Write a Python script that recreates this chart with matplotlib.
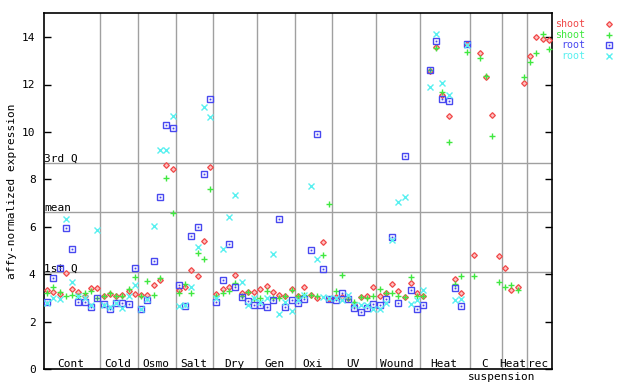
import numpy as np
import matplotlib
matplotlib.use("Agg")
import matplotlib.pyplot as plt
from matplotlib.lines import Line2D

nan = np.nan
groups = ['Cont', 'Cold', 'Osmo', 'Salt', 'Dry', 'Gen', 'Oxi', 'UV', 'Wound', 'Heat', 'C', 'Heat', 'rec']
group_sizes = [9, 6, 6, 6, 7, 6, 6, 7, 7, 8, 5, 4, 4]

shoot_a = [3.33, 3.25, 3.18, 4.05, 3.39, 3.25, 3.10, 3.42, 3.42,
           3.09, 3.17, 3.10, 3.13, 3.32, 3.16,
           3.13, 3.13, 3.56, 3.77, 8.60, 8.44,
           3.35, 3.46, 4.17, 3.92, 5.40, 8.54,
           3.16, 3.39, 3.46, 3.98, 3.20, 3.25, 3.25,
           3.39, 3.51, 3.25, 3.14, 3.07, 3.39,
           3.09, 3.48, 3.13, 3.00, 5.36, 2.97,
           3.06, 3.05, 3.00, 2.75, 3.06, 3.10, 3.48,
           3.10, 3.20, 3.58, 3.30, 3.06, 3.63, 3.20,
           3.09, 12.55, 13.60, 11.54, 10.67, 3.81, 3.20, 13.70,
           4.81, 13.33, 12.30, 10.73, 4.77,
           4.26, 3.33, 3.47, 12.06,
           13.20, 14.00, 13.90, 13.86]
shoot_b = [3.20, 3.47, 3.26, 3.09, 3.13, 3.10, 3.23, 3.29, 3.02,
           3.10, 3.20, 3.10, 3.09, 3.39, 3.88,
           3.09, 3.70, 3.13, 3.84, 8.06, 6.58,
           3.20, 3.58, 3.20, 4.89, 4.64, 7.59,
           3.10, 3.20, 3.30, 3.63, 3.10, 3.25, 2.95,
           3.00, 3.28, 2.99, 3.00, 3.10, 3.33,
           3.10, 3.14, 3.14, 3.10, 4.81, 6.96,
           3.30, 3.98, 2.95, 2.85, 3.06, 3.00, 3.09,
           3.39, 3.20, 3.23, 3.09, 3.06, 3.88, 3.10,
           3.09, 12.60, 13.54, 11.68, 9.57, 3.58, 3.92, 13.37,
           3.92, 13.12, 12.36, 9.83, 3.67,
           3.46, 3.56, 3.33, 12.32,
           12.95, 13.33, 14.11, 13.51]
root_a = [2.85, 3.84, 4.26, 5.95, 5.06, 2.85, 2.85, 2.61, 2.99,
          2.74, 2.54, 2.78, 2.78, 2.74, 4.26,
          2.52, 2.92, 4.57, 7.25, 10.29, 10.16,
          3.56, 2.67, 5.61, 6.00, 8.22, 11.39,
          2.83, 3.77, 5.27, 3.46, 3.04, 2.88, 2.71,
          2.71, 2.61, 2.92, 6.33, 2.61, 2.92,
          2.78, 2.97, 5.02, 9.91, 4.22, 2.97,
          2.92, 3.20, 2.97, 2.57, 2.40, 2.57, 2.75,
          2.71, 2.97, 5.59, 2.78, 8.98, 3.34, 2.55,
          2.70, 12.61, 13.83, 11.39, 11.30, 3.42, 2.66, 13.69,
          nan, nan, nan, nan, nan,
          nan, nan, nan, nan,
          nan, nan, nan, nan]
root_b = [2.78, 2.99, 2.97, 6.33, 3.67, 3.08, 3.00, 2.72, 5.87,
          2.71, 2.62, 2.80, 2.57, 3.09, 3.55,
          2.55, 2.95, 6.04, 9.25, 9.26, 10.68,
          2.67, 2.70, 3.48, 5.15, 11.05, 10.63,
          3.00, 5.07, 6.41, 7.34, 3.67, 2.71, 3.00,
          2.85, 3.00, 4.85, 2.33, 2.82, 2.47,
          2.90, 3.14, 7.72, 4.64, 3.05, 3.00,
          3.00, 2.92, 3.14, 2.71, 2.70, 2.71, 2.52,
          2.52, 2.80, 5.45, 7.04, 7.25, 2.74, 2.90,
          3.35, 11.89, 14.11, 12.06, 11.54, 2.92, 2.95, 13.65,
          nan, nan, nan, nan, nan,
          nan, nan, nan, nan,
          nan, nan, nan, nan]

q1, qmean, q3 = 4.09, 6.62, 8.69

series = [
    ('shoot', shoot_a, '#f04848', 'D'),
    ('shoot', shoot_b, '#40e840', '+'),
    ('root', root_a, '#4848f0', 's'),
    ('root', root_b, '#58f0f0', 'x'),
]

FONT = 'DejaVu Sans Mono'
FS = 8


def draw_marker(target, xs, ys, col, mk, **kw):
    if mk == 'D':
        target.add_artist(Line2D(xs, ys, ls='none', marker='D', ms=2.9, mfc='#ffc0c0', mec=col, mew=0.9, **kw))
    elif mk == 's':
        target.add_artist(Line2D(xs, ys, ls='none', marker='s', ms=4.0, mfc='none', mec=col, mew=1.0, **kw))
        target.add_artist(Line2D(xs, ys, ls='none', marker='s', ms=0.9, mfc=col, mec=col, mew=0.3, **kw))
    else:
        target.add_artist(Line2D(xs, ys, ls='none', marker=mk, ms=4.6, mec=col, mew=1.0, **kw))


fig = plt.figure(figsize=(6.4, 3.84), dpi=100)
ax = fig.add_axes([44/640, 1-369.3/384, (552-44)/640, (369.3-13.3)/384])

n = len(shoot_a)
x = np.arange(1, n + 1)
ax.set_xlim(0.5, n + 0.5)
ax.set_ylim(0, 15)

bounds = np.cumsum(group_sizes) + 0.5
for b in bounds[:-1]:
    ax.axvline(b, color='#a0a0a0', lw=1, zorder=1)
for q in (q1, qmean, q3):
    ax.axhline(q, color='#a0a0a0', lw=1, zorder=1)

ax.text(0.55, q3 + 0.04, '3rd Q', family=FONT, fontsize=FS, ha='left', va='baseline')
ax.text(0.55, qmean + 0.04, 'mean', family=FONT, fontsize=FS, ha='left', va='baseline')
ax.text(0.55, q1 + 0.04, '1st Q', family=FONT, fontsize=FS, ha='left', va='baseline')

for name, vals, col, mk in series:
    v = np.array(vals, dtype=float)
    if mk == 'D':
        ax.plot(x, v, ls='none', marker='D', ms=2.9, mfc='#ffc0c0', mec=col, mew=0.9, zorder=3)
    elif mk == 's':
        ax.plot(x, v, ls='none', marker='s', ms=4.0, mfc='none', mec=col, mew=1.0, zorder=3)
        ax.plot(x, v, ls='none', marker='s', ms=0.9, mfc=col, mec=col, mew=0.3, zorder=3)
    else:
        ax.plot(x, v, ls='none', marker=mk, ms=4.6, mec=col, mew=1.0, zorder=3)

starts = np.concatenate([[0.5], bounds[:-1]])
for g, s, e in zip(groups, starts, bounds):
    ax.text((s + e) / 2 - 0.2, 0.09, g, family=FONT, fontsize=FS, ha='center', va='baseline')
ax.text(bounds[10], -0.31, 'suspension', family=FONT, fontsize=FS, ha='center', va='center', clip_on=False)

ax.set_xticks([])
ax.set_yticks(np.arange(0, 15, 2))
ax.tick_params(axis='y', direction='in', length=5, width=1, pad=6, right=True, labelsize=FS)
for lab in ax.get_yticklabels():
    lab.set_family(FONT)
for sp in ax.spines.values():
    sp.set_linewidth(1.2)

fig.text(12/640, 1-191/384, 'affy-normalized expression', family=FONT, fontsize=FS,
         rotation=90, ha='center', va='center')

ys = [24, 34.7, 45, 56]
for (name, vals, col, mk), yy in zip(series, ys):
    fy = 1 - yy/384
    fig.text(585/640, fy, name, family=FONT, fontsize=7.2, color=col, ha='right', va='center')
    draw_marker(fig, [609/640], [fy], col, mk, transform=fig.transFigure)

fig.savefig('out.png', dpi=100)
